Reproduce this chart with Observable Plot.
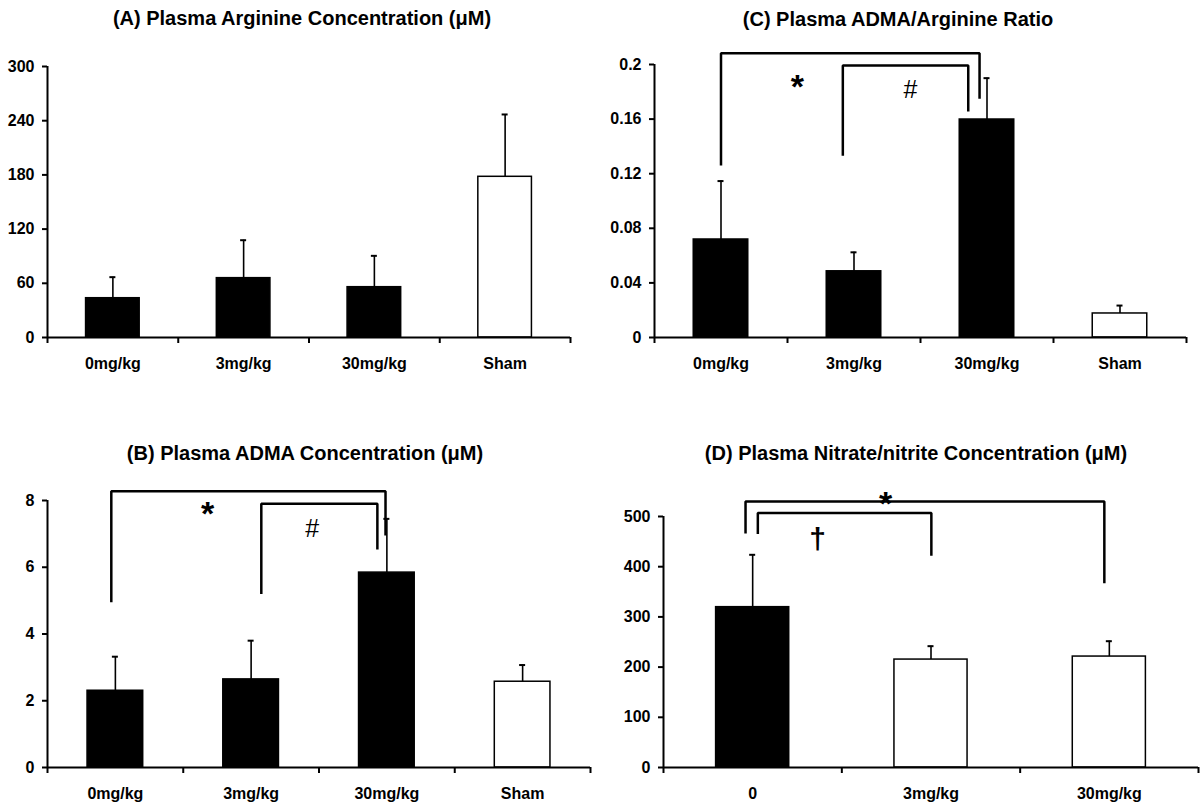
<!DOCTYPE html>
<html><head><meta charset="utf-8">
<script src="https://cdn.jsdelivr.net/npm/d3@7"></script>
<script src="https://cdn.jsdelivr.net/npm/@observablehq/plot@0.6"></script>
<style>
body{margin:0;background:#fff;}
#page{position:relative;width:1200px;height:807px;overflow:hidden;background:#fff;font-family:"Liberation Sans",Arial,sans-serif;}
.title{position:absolute;width:600px;text-align:center;font-weight:bold;font-size:20px;line-height:24px;color:#000;white-space:nowrap;}
.panel{position:absolute;}
</style></head><body><div id="page"></div>
<script>
// ---------- data ----------
const categoriesABC = ["0mg/kg", "3mg/kg", "30mg/kg", "Sham"];
const categoriesD = ["0", "3mg/kg", "30mg/kg"];

const arginineMean = [43.5, 65.7, 55.7, 177.9];
const arginineErr  = [66.8, 107.7, 90.4, 246.9];
const arginineTicks = [0, 60, 120, 180, 240, 300];

const admaMean = [2.30, 2.64, 5.84, 2.57];
const admaErr  = [3.32, 3.80, 7.45, 3.07];
const admaTicks = [0, 2, 4, 6, 8];

const ratioMean = [0.0718, 0.0485, 0.1597, 0.0176];
const ratioErr  = [0.1146, 0.0624, 0.1900, 0.0234];
const ratioTicks = [0, 0.04, 0.08, 0.12, 0.16, 0.2];

const noxMean = [319.4, 215.0, 221.0];
const noxErr  = [423.7, 241.7, 251.6];
const noxTicks = [0, 100, 200, 300, 400, 500];

// significance brackets (x in category units along the axis, y in data units)
const admaBrackets = [
  {xLeft: 0.47, xRight: 2.49, top: 8.28, leftEnd: 4.95, rightEnd: 6.95},
  {xLeft: 1.575, xRight: 2.43, top: 7.90, leftEnd: 5.20, rightEnd: 6.53}
];
const admaSymbols = [{label: "*", x: 1.18, y: 7.85}, {label: "#", x: 1.95, y: 7.19}];

const ratioBrackets = [
  {xLeft: 0.50, xRight: 2.444, top: 0.2083, leftEnd: 0.126, rightEnd: 0.175},
  {xLeft: 1.416, xRight: 2.359, top: 0.1993, leftEnd: 0.1331, rightEnd: 0.1656}
];
const ratioSymbols = [{label: "*", x: 1.075, y: 0.1897}, {label: "#", x: 1.925, y: 0.1824}];

const noxBrackets = [
  {xLeft: 0.46, xRight: 2.472, top: 530, leftEnd: 466, rightEnd: 367},
  {xLeft: 0.529, xRight: 1.502, top: 507, leftEnd: 465, rightEnd: 422}
];
const noxSymbols = [{label: "*", x: 1.245, y: 542}, {label: "†", x: 0.864, y: 458}];

// ---------- layout / style ----------
const FONT = '"Liberation Sans", Arial, sans-serif';
const symbolStyle = {
  "*": {fontSize: 34, fontWeight: "bold", dy: 9},
  "#": {fontSize: 25, fontWeight: "normal", dy: 1},
  "†": {fontSize: 30, fontWeight: "bold", dy: 2}
};
const plainFmt = d => String(d);
const ratioFmt = d => d === 0 ? "0" : d3.format(".2~f")(d);

const panels = [
  {title: "(A) Plasma Arginine Concentration (μM)", cats: categoriesABC, mean: arginineMean, err: arginineErr,
   ticks: arginineTicks, brackets: [], symbols: [], open: ["Sham"], fmt: plainFmt,
   left: 0, top: 40, width: 600, height: 340, mt: 26, mb: 43, ml: 47, mr: 30, titleX: 302, titleY: 18},
  {title: "(C) Plasma ADMA/Arginine Ratio", cats: categoriesABC, mean: ratioMean, err: ratioErr,
   ticks: ratioTicks, brackets: ratioBrackets, symbols: ratioSymbols, open: ["Sham"], fmt: ratioFmt,
   left: 600, top: 40, width: 600, height: 340, mt: 24, mb: 43, ml: 54, mr: 14, titleX: 898, titleY: 19},
  {title: "(B) Plasma ADMA Concentration (μM)", cats: categoriesABC, mean: admaMean, err: admaErr,
   ticks: admaTicks, brackets: admaBrackets, symbols: admaSymbols, open: ["Sham"], fmt: plainFmt,
   left: 0, top: 470, width: 600, height: 337, mt: 30, mb: 40, ml: 47, mr: 10, titleX: 305, titleY: 453},
  {title: "(D) Plasma Nitrate/nitrite Concentration (μM)", cats: categoriesD, mean: noxMean, err: noxErr,
   ticks: noxTicks, brackets: noxBrackets, symbols: noxSymbols, open: ["3mg/kg", "30mg/kg"], fmt: plainFmt,
   left: 600, top: 470, width: 600, height: 337, mt: 46, mb: 40, ml: 63, mr: 2, titleX: 916, titleY: 453}
];

const page = document.getElementById("page");

function drawPanel(p) {
  const n = p.cats.length;
  const rows = p.cats.map((c, i) => ({cat: c, xc: i + 0.5, mean: p.mean[i], err: p.err[i], open: p.open.includes(c)}));
  const bandPx = (p.width - p.ml - p.mr) / n;
  const capHalf = 3 / bandPx;
  const barHalf = 0.205;
  const ymax = p.ticks[p.ticks.length - 1];
  const bracketPts = p.brackets.flatMap((b, k) => [
    {k, x: b.xLeft, y: b.leftEnd}, {k, x: b.xLeft, y: b.top},
    {k, x: b.xRight, y: b.top}, {k, x: b.xRight, y: b.rightEnd}
  ]);
  const symbolMarks = Object.entries(symbolStyle).map(([sym, st]) =>
    Plot.text(p.symbols.filter(s => s.label === sym), {
      x: "x", y: "y", text: "label", fontSize: st.fontSize, fontWeight: st.fontWeight,
      fontFamily: FONT, dy: st.dy, fill: "black", textAnchor: "middle", lineAnchor: "middle"
    })
  );

  const chart = Plot.plot({
    width: p.width, height: p.height,
    marginTop: p.mt, marginBottom: p.mb, marginLeft: p.ml, marginRight: p.mr,
    style: {fontFamily: FONT, fontSize: "16px", fontWeight: "bold", color: "#000", background: "#fff", overflow: "visible"},
    x: {domain: [0, n], label: null},
    y: {domain: [0, ymax], label: null},
    marks: [
      Plot.rect(rows.filter(d => !d.open), {x1: d => d.xc - barHalf, x2: d => d.xc + barHalf, y1: () => 0, y2: "mean", fill: "black", stroke: "black", strokeWidth: 1.5}),
      Plot.rect(rows.filter(d => d.open), {x1: d => d.xc - barHalf, x2: d => d.xc + barHalf, y1: () => 0, y2: "mean", fill: "white", stroke: "black", strokeWidth: 1.5}),
      Plot.ruleX(rows, {x: "xc", y1: "mean", y2: "err", stroke: "black", strokeWidth: 1.6}),
      Plot.ruleY(rows, {y: "err", x1: d => d.xc - capHalf, x2: d => d.xc + capHalf, stroke: "black", strokeWidth: 2}),
      Plot.line(bracketPts, {x: "x", y: "y", z: "k", stroke: "black", strokeWidth: 2.5, strokeLinejoin: "miter", strokeLinecap: "butt"}),
      ...symbolMarks,
      Plot.axisY({ticks: p.ticks, tickSize: 5, tickPadding: 8, tickFormat: p.fmt, strokeWidth: 2, fontSize: 16, fontWeight: "bold", label: null}),
      Plot.ruleX([0], {y1: () => 0, y2: () => ymax, stroke: "black", strokeWidth: 2}),
      Plot.ruleY([0], {x1: () => 0, x2: () => n, stroke: "black", strokeWidth: 2}),
      Plot.axisX({ticks: d3.range(n + 1), tickSize: 6, tickFormat: () => "", strokeWidth: 2, label: null}),
      Plot.axisX({ticks: rows.map(d => d.xc), tickSize: 0, tickPadding: 20, tickFormat: d => p.cats[Math.floor(d)], fontSize: 16, fontWeight: "bold", label: null})
    ]
  });

  const holder = document.createElement("div");
  holder.className = "panel";
  holder.style.left = p.left + "px";
  holder.style.top = p.top + "px";
  holder.appendChild(chart);
  page.appendChild(holder);

  const t = document.createElement("div");
  t.className = "title";
  t.textContent = p.title;
  t.style.left = (p.titleX - 300) + "px";
  t.style.top = (p.titleY - 12) + "px";
  page.appendChild(t);
}

panels.forEach(drawPanel);
</script>
</body></html>
